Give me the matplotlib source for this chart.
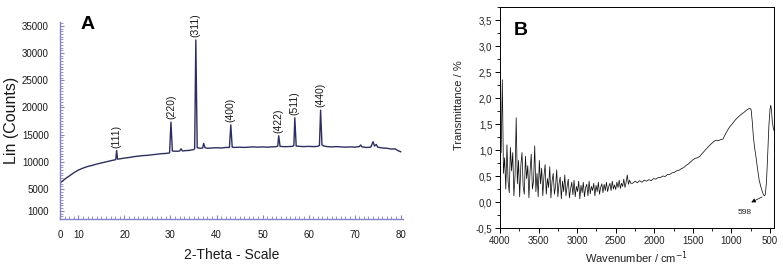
import matplotlib.pyplot as plt
import numpy as np
from matplotlib.ticker import MultipleLocator

plt.rcParams['font.family'] = ['Liberation Sans', 'DejaVu Sans']

# ---- panel A : XRD pattern (2-theta, counts) ----
xrd_theta = [6.0, 7.0, 8.0, 9.0, 10.0, 11.0, 12.0, 13.0, 14.0, 15.0, 16.0, 17.0, 17.8, 18.1, 18.3, 18.5,
             19.0, 20.0, 21.0, 22.0, 23.0, 24.0, 25.0, 26.0, 27.0, 28.0, 29.0, 29.8, 30.1, 30.4, 31.0,
             31.5, 32.0, 32.3, 32.6, 33.0, 34.0, 35.0, 35.25, 35.5, 35.8, 36.5, 37.0, 37.2, 37.5, 38.0,
             39.0, 40.0, 41.0, 42.0, 42.8, 43.1, 43.4, 44.0, 45.0, 46.0, 47.0, 48.0, 49.0, 50.0, 51.0,
             52.0, 53.0, 53.3, 53.5, 53.8, 54.5, 55.5, 56.5, 56.8, 57.0, 57.3, 58.0, 59.0, 60.0, 61.0,
             62.0, 62.35, 62.6, 62.9, 63.4, 64.0, 65.0, 66.0, 67.0, 68.0, 69.0, 70.0, 71.0, 71.3, 71.6,
             72.5, 73.5, 74.0, 74.3, 74.7, 75.0, 76.0, 77.0, 78.0, 78.8, 79.2, 79.6, 80.0]
xrd_counts = [6100, 6800, 7400, 8000, 8500, 8850, 9150, 9350, 9600, 9800, 10000, 10200, 10350, 10400, 12100, 10500,
              10550, 10700, 10800, 10950, 11050, 11150, 11200, 11300, 11400, 11500, 11550, 11650, 17300, 12000, 11950,
              11950, 12000, 12400, 12000, 12050, 12100, 12250, 12400, 32400, 12600, 12500, 12550, 13400, 12600, 12500,
              12550, 12600, 12550, 12650, 12650, 16800, 12700, 12650, 12700, 12650, 12700, 12750, 12700, 12750, 12700,
              12750, 12800, 12900, 14800, 12850, 12800, 12800, 12850, 13000, 18100, 12900, 12850, 12800, 12850, 12800,
              12850, 13000, 19500, 13100, 12900, 12800, 12750, 12800, 12750, 12700, 12750, 12700, 12800, 13100, 12750,
              12650, 12700, 13700, 12900, 13200, 12700, 12550, 12500, 12350, 12400, 12150, 12000, 11850]

hkl_labels = ['(111)', '(220)', '(311)', '(400)', '(422)', '(511)', '(440)']
hkl_theta = [18.3, 30.1, 35.5, 43.1, 53.5, 57.0, 62.6]
hkl_counts = [12100, 17300, 32400, 16800, 14800, 18100, 19500]

xrd_xticks = [6, 10, 20, 30, 40, 50, 60, 70, 80]
xrd_xticklabels = ['0', '10', '20', '30', '40', '50', '60', '70', '80']
xrd_yticks = [1000, 5000, 10000, 15000, 20000, 25000, 30000, 35000]

# ---- panel B : FTIR spectrum ----
# noisy part, 4000 -> 2305 cm-1 every 15 cm-1
ir_noisy = [1.62, 0.95, 2.35, 0.55, 0.85, 0.25, 1.10, 0.40, 0.18, 1.05,
            0.60, 0.95, 0.12, 0.50, 1.62, 0.35, 0.80, 0.10, 0.70, 0.95,
            0.30, 0.15, 0.88, 0.45, 0.70, 0.08, 0.60, 0.92, 0.25, 0.40,
            1.08, 0.20, 0.55, 0.10, 0.80, 0.35, 0.65, 0.12, 0.50, 0.72,
            0.15, 0.45, 0.28, 0.68, 0.08, 0.40, 0.55, 0.15, 0.30, 0.62,
            0.10, 0.35, 0.48, 0.06, 0.40, 0.20, 0.52, 0.12, 0.30, 0.44,
            0.08, 0.25, 0.38, 0.14, 0.42, 0.10, 0.30, 0.20, 0.40, 0.06,
            0.32, 0.18, 0.38, 0.10, 0.28, 0.34, 0.12, 0.40, 0.16, 0.30,
            0.22, 0.36, 0.12, 0.32, 0.20, 0.38, 0.15, 0.28, 0.35, 0.18,
            0.34, 0.22, 0.38, 0.20, 0.30, 0.36, 0.22, 0.40, 0.25, 0.33,
            0.24, 0.38, 0.28, 0.42, 0.26, 0.36, 0.30, 0.44, 0.28, 0.38,
            0.52, 0.34, 0.42, 0.36]
ir_noisy_wn = np.arange(4000, 2299, -15)

ir_wn = [2280, 2250, 2220, 2190, 2160, 2130, 2100, 2070, 2040, 2010, 1980, 1950, 1920, 1890, 1860,
         1830, 1800, 1770, 1740, 1710, 1680, 1650, 1620, 1590, 1560, 1530, 1500, 1470, 1440, 1410,
         1380, 1350, 1320, 1290, 1260, 1230, 1200, 1170, 1140, 1110, 1080, 1050, 1020, 990, 960,
         930, 900, 870, 840, 810, 780, 760, 745, 730, 715, 700, 680, 660, 640, 620,
         600, 585, 570, 560, 545, 530, 515, 500, 490, 480, 470, 460, 450]
ir_val = [0.36, 0.40, 0.37, 0.41, 0.38, 0.42, 0.40, 0.43, 0.41, 0.45, 0.44, 0.47, 0.47, 0.50, 0.49,
          0.53, 0.53, 0.56, 0.57, 0.60, 0.61, 0.64, 0.66, 0.70, 0.73, 0.77, 0.81, 0.84, 0.85, 0.88,
          0.93, 0.98, 1.03, 1.08, 1.12, 1.16, 1.19, 1.18, 1.20, 1.21, 1.30, 1.38, 1.45, 1.50, 1.56,
          1.61, 1.65, 1.69, 1.72, 1.76, 1.79, 1.80, 1.78, 1.55, 1.25, 1.05, 0.85, 0.62, 0.42, 0.30,
          0.20, 0.14, 0.12, 0.15, 0.40, 0.90, 1.45, 1.78, 1.86, 1.75, 1.55, 1.45, 1.38]

ir_x = np.concatenate([ir_noisy_wn, ir_wn])
ir_y = np.concatenate([ir_noisy, ir_val])

fig = plt.figure(figsize=(7.83, 2.69), dpi=100)

# ---------------- A ----------------
blue = '#8484c4'
ax1 = fig.add_axes([60 / 783, 1 - 219 / 269, 343 / 783, 197 / 269])
ax1.plot(xrd_theta, xrd_counts, color='#2e2e5e', lw=1.0)
ax1.set_xlim(6, 80.5)
ax1.set_ylim(-500, 35700)
for s in ['top', 'right']:
    ax1.spines[s].set_visible(False)
for s in ['left', 'bottom']:
    ax1.spines[s].set_color(blue)
    ax1.spines[s].set_linewidth(1.0)
ax1.set_xticks(xrd_xticks)
ax1.set_xticklabels(xrd_xticklabels)
ax1.set_yticks(xrd_yticks)
ax1.xaxis.set_minor_locator(MultipleLocator(1))
ax1.yaxis.set_minor_locator(MultipleLocator(500))
ax1.tick_params(which='both', direction='in', color=blue, labelsize=7, labelcolor='#1a1a1a')
ax1.tick_params(which='major', length=3, pad=8)
ax1.tick_params(which='minor', length=2)
ax1.set_xlabel('2-Theta - Scale', fontsize=10, color='#1a1a1a', labelpad=6)
ax1.set_ylabel('Lin (Counts)', fontsize=11.5, color='#1a1a1a', labelpad=2)
for lab, t, c in zip(hkl_labels, hkl_theta, hkl_counts):
    ax1.annotate(lab, (t, c), xytext=(0, 2), textcoords='offset points',
                 rotation=90, ha='center', va='bottom', fontsize=7.5, color='#1a1a1a')
ax1.text(0.06, 1.03, 'A', transform=ax1.transAxes, fontsize=14, fontweight='bold', va='top')

# ---------------- B ----------------
ax2 = fig.add_axes([500 / 783, 1 - 228 / 269, 274 / 783, 221 / 269])
ax2.plot(ir_x, ir_y, color='#111111', lw=0.55)
ax2.set_xlim(4000, 448)
ax2.set_ylim(-0.5, 3.75)
ax2.set_xticks([4000, 3500, 3000, 2500, 2000, 1500, 1000, 500])
ax2.set_yticks(np.arange(-0.5, 3.6, 0.5))
ax2.set_yticklabels([('%.1f' % v).replace('.', ',') for v in np.arange(-0.5, 3.6, 0.5)])
ax2.xaxis.set_minor_locator(MultipleLocator(250))
ax2.yaxis.set_minor_locator(MultipleLocator(0.25))
ax2.tick_params(which='both', direction='out', labelsize=7, labelcolor='#222222')
ax2.tick_params(which='major', length=3.5, width=0.7, pad=2)
ax2.tick_params(which='minor', length=2, width=0.6)
for s in ax2.spines.values():
    s.set_linewidth(0.7)
ax2.set_xlabel('Wavenumber / cm$^{-1}$', fontsize=8, color='#222222', labelpad=3)
ax2.set_ylabel('Transmittance / %', fontsize=8, color='#222222')
ax2.yaxis.set_label_coords(-0.13, 0.555)
ax2.annotate('598', xy=(785, -0.04), xytext=(823, -0.2), ha='center', va='center',
             fontsize=6, color='#222222')
ax2.annotate('', xy=(775, -0.03), xytext=(570, 0.12),
             arrowprops=dict(arrowstyle='-|>', color='black', lw=0.5, mutation_scale=6))
ax2.text(0.05, 0.93, 'B', transform=ax2.transAxes, fontsize=14, fontweight='bold', va='top')

fig.savefig('out.png', dpi=100)
